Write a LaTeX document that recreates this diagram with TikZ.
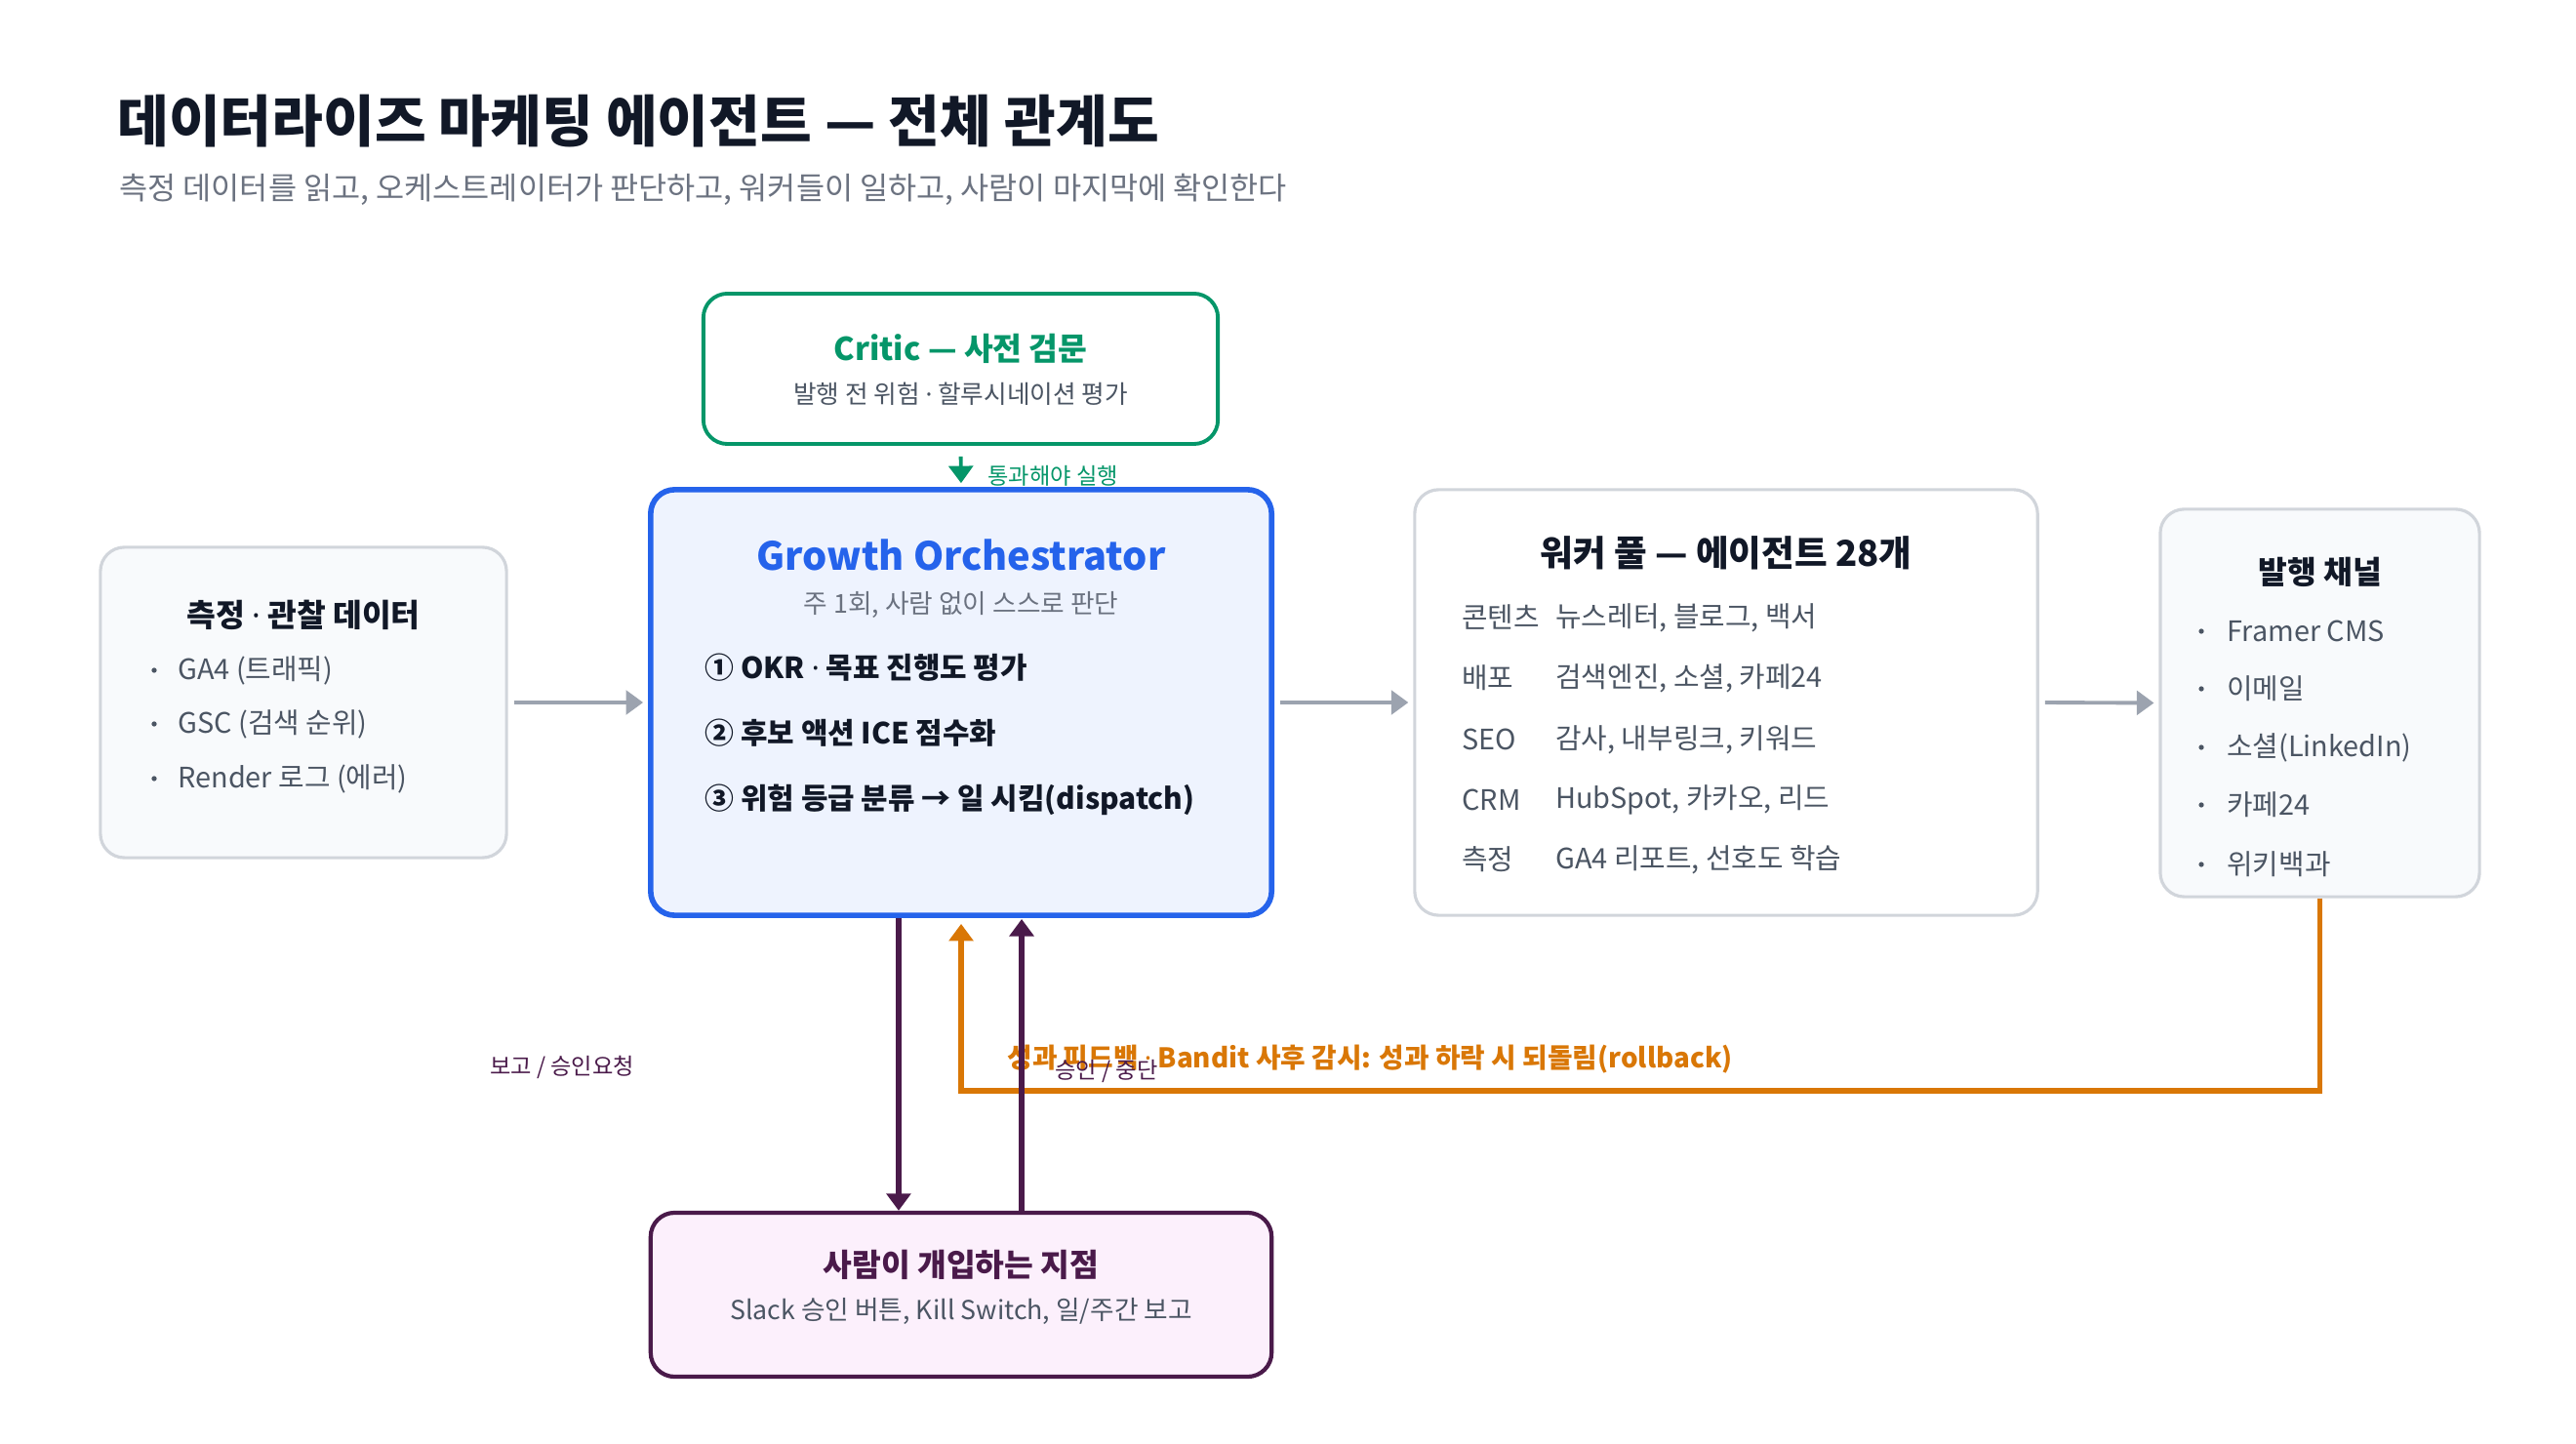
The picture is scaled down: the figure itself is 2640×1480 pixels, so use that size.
\documentclass[tikz,border=0pt]{standalone}
\usepackage{fontspec}
\setmainfont{Noto Sans CJK KR}
\newfontfamily\dotfont{Noto Sans}
\newcommand{\md}{{\dotfont ·}}
\usetikzlibrary{arrows.meta,positioning}

\definecolor{ink}{HTML}{111827}
\definecolor{muted}{HTML}{6B7280}
\definecolor{bodytext}{HTML}{4B5563}
\definecolor{criticgreen}{HTML}{059669}
\definecolor{orchblue}{HTML}{2563EB}
\definecolor{orchfill}{HTML}{EEF3FE}
\definecolor{cardline}{HTML}{D1D5DB}
\definecolor{cardfill}{HTML}{F8FAFC}
\definecolor{humanpurple}{HTML}{4A1A4A}
\definecolor{humanfill}{HTML}{FCF0FC}
\definecolor{flowgray}{HTML}{9CA3AF}
\definecolor{fborange}{HTML}{D97706}

\begin{document}
\begin{tikzpicture}[x=0.01cm, y=-0.01cm,
  card/.style={draw=cardline, fill=cardfill, line width=0.9pt, rounded corners=7pt, inner sep=0pt},
  hd/.style={font=\fontsize{9.2pt}{11pt}\selectfont\bfseries, text=ink},
  txt/.style={font=\fontsize{8.2pt}{10pt}\selectfont, text=bodytext, anchor=west},
  sub/.style={font=\fontsize{7.6pt}{9pt}\selectfont, text=muted},
  headtri/.style={-{Triangle[length=5pt,width=7pt]}},
  flowarrow/.style={draw=flowgray, line width=1.1pt, headtri, shorten <=1.7pt, shorten >=1.4pt},
  humarrow/.style={draw=humanpurple, line width=1.6pt, headtri},
  edgelbl/.style={font=\fontsize{6.6pt}{8pt}\selectfont}]

\useasboundingbox[fill=white] (0,0) rectangle (2640,1480);

% 제목
\node[anchor=west, text=ink, font=\fontsize{16.3pt}{18pt}\selectfont\bfseries] (title) at (108,124)
  {데이터라이즈 마케팅 에이전트 — 전체 관계도};
\node[anchor=west, text=muted, font=\fontsize{9pt}{10pt}\selectfont] (subtitle) at (110,194)
  {측정 데이터를 읽고, 오케스트레이터가 판단하고, 워커들이 일하고, 사람이 마지막에 확인한다};

% 상자
\node[card, minimum width=4.16cm, minimum height=3.18cm] (data) at (311,720) {};
\node[card, draw=criticgreen, fill=white, line width=1.1pt, minimum width=5.27cm, minimum height=1.54cm] (critic) at (984.5,378) {};
\node[card, draw=orchblue, fill=orchfill, line width=1.6pt, minimum width=6.36cm, minimum height=4.36cm] (orch) at (985,720) {};
\node[card, fill=white, minimum width=6.38cm, minimum height=4.36cm] (pool) at (1769,720) {};
\node[card, minimum width=3.27cm, minimum height=3.97cm] (chan) at (2377.5,720.5) {};
\node[card, draw=humanpurple, fill=humanfill, line width=1.2pt, minimum width=6.36cm, minimum height=1.68cm] (hum) at (985,1327) {};

% 측정 데이터
\node[hd] (data-hd) at (311,630) {측정 \md{} 관찰 데이터};
\foreach \y/\t [count=\i] in {687/GA4 (트래픽), 742/GSC (검색 순위), 798/Render 로그 (에러)} {
  \fill[bodytext] (158,\y) circle (0.75pt);
  \node[txt] (data-\i) at (170,\y) {\t};
}

% Critic
\node[hd, text=criticgreen] (critic-hd) at (984.5,357) {Critic — 사전 검문};
\node[sub, text=bodytext, font=\fontsize{7.3pt}{9pt}\selectfont] (critic-sub) at (984.5,404) {발행 전 위험 \md{} 할루시네이션 평가};

% Orchestrator
\node[text=orchblue, font=\fontsize{11.3pt}{14pt}\selectfont\bfseries] (orch-hd) at (985,569) {Growth Orchestrator};
\node[sub] (orch-sub) at (985,620) {주 1회, 사람 없이 스스로 판단};
\foreach \y/\t [count=\i] in {684/① OKR \md{} 목표 진행도 평가, 751/② 후보 액션 ICE 점수화, 820/③ 위험 등급 분류 → 일 시킴(dispatch)}
  \node[anchor=west, text=ink, font=\fontsize{8.5pt}{10pt}\selectfont\bfseries] (orch-\i) at (710,\y) {\t};

% 워커 풀
\node[hd, font=\fontsize{10.4pt}{12pt}\selectfont\bfseries] (pool-hd) at (1769,567) {워커 풀 — 에이전트 28개};
\foreach \y/\k/\v [count=\i] in {633/콘텐츠/{뉴스레터, 블로그, 백서}, 695/배포/{검색엔진, 소셜, 카페24},
    758/SEO/{감사, 내부링크, 키워드}, 820/CRM/{HubSpot, 카카오, 리드}, 881/측정/{GA4 리포트, 선호도 학습}} {
  \node[txt] (pool-k\i) at (1486,\y) {\k};
  \node[txt] (pool-v\i) at (1582,\y) {\v};
}

% 발행 채널
\node[hd] (chan-hd) at (2377.5,586) {발행 채널};
\foreach \y/\t [count=\i] in {647/Framer CMS, 706/이메일, 766/소셜(LinkedIn), 825/카페24, 886/위키백과} {
  \fill[bodytext] (2256,\y) circle (0.75pt);
  \node[txt] (chan-\i) at (2270,\y) {\t};
}

% 사람
\node[hd, text=humanpurple] (hum-hd) at (985,1296) {사람이 개입하는 지점};
\node[txt, font=\fontsize{7.6pt}{9pt}\selectfont, anchor=center] (hum-sub) at (985,1344) {Slack 승인 버튼, Kill Switch, 일/주간 보고};

% 흐름
\draw[flowarrow] (data.east) -- (orch.west);
\draw[flowarrow] (orch.east) -- (pool.west);
\draw[flowarrow] (pool.east) -- (chan.west);
\draw[draw=criticgreen, line width=1.1pt, headtri, shorten <=3.1pt, shorten >=1.1pt] (critic.south) -- (orch.north);
\node[edgelbl, text=criticgreen, anchor=west] (critic-lbl) at (1000,488) {통과해야 실행};

% 성과 피드백
\coordinate (fbturn) at (2377.5,1118);
\draw[draw=fborange, line width=1.6pt, headtri, shorten >=1.7pt] (chan.south) -- (fbturn) -| (orch.south);
\node[anchor=west, text=fborange, font=\fontsize{7.9pt}{9pt}\selectfont\bfseries] (fb-lbl) at (1020,1086)
  {성과 피드백 \md{} Bandit 사후 감시: 성과 하락 시 되돌림(rollback)};

% 사람 개입
\draw[humarrow] ([xshift=-0.64cm]orch.south) -- ([xshift=-0.64cm]hum.north);
\draw[humarrow, shorten >=0.3pt] ([xshift=0.62cm]hum.north) -- ([xshift=0.62cm]orch.south);
\node[edgelbl, text=humanpurple] (report-lbl) at (576,1094) {보고 / 승인요청};
\node[edgelbl, text=humanpurple] (approve-lbl) at (1134,1098) {승인 / 중단};

\end{tikzpicture}
\end{document}
